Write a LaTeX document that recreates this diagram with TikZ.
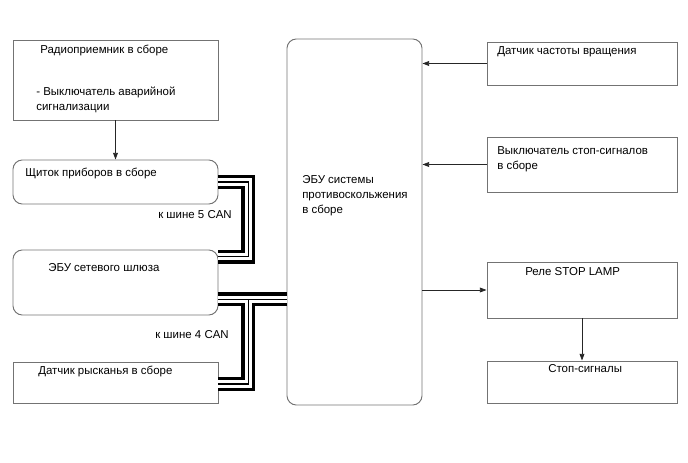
\documentclass[tikz,border=0pt]{standalone}
\usepackage{fontspec}
\setmainfont{Liberation Sans}
\usetikzlibrary{positioning, fit, calc, arrows.meta}

\begin{document}
\begin{tikzpicture}[x=0.75pt, y=-0.75pt,
        box/.style={draw=black!55, line width=0.7pt, inner sep=0pt},
        roundbox/.style={box, rounded corners=7pt},
        txt/.style={inner sep=0pt, anchor=west, align=left, font=\fontsize{8.6}{11.4}\selectfont},
        arr/.style={draw=black!85, line width=0.6pt, -{Triangle[length=5pt, width=3.6pt]}},
        busouter/.style={line width=10.5pt, black},
        businner/.style={line width=5.4pt, white},
        buscore/.style={line width=0.8pt, black}]
        \useasboundingbox (0,0) rectangle (688,463);

        % left column
        \node[box, fit={(13,40) (218,120)}] (radio) {};
        \node[roundbox, fit={(13,160) (218,204)}] (cluster) {};
        \node[roundbox, fit={(13,250) (218,315)}] (gateway) {};
        \node[box, fit={(13,362) (218,403)}] (yaw) {};

        % centre
        \node[roundbox, fit={(287,39) (422,405)}] (ecu) {};

        % right column
        \node[box, fit={(487,42) (677,85)}] (speed) {};
        \node[box, fit={(487,137) (677,192)}] (brake) {};
        \node[box, fit={(487,262) (677,318)}] (relay) {};
        \node[box, fit={(487,361) (677,403)}] (stop) {};

        % texts
        \node[txt] (radiot) at (40,50) {Радиоприемник в сборе};
        \node[txt] (radios) at (36,99.5) {- Выключатель аварийной\\сигнализации};
        \node[txt] (clustert) at (25,173) {Щиток приборов в сборе};
        \node[txt] (gatewayt) at (48,268) {ЭБУ сетевого шлюза};
        \node[txt] (yawt) at (38,371) {Датчик рысканья в сборе};
        \node[txt] (ecut) at (302,195.5) {ЭБУ системы\\противоскольжения\\в сборе};
        \node[txt] (speedt) at (497,52) {Датчик частоты вращения};
        \node[txt] (braket) at (497,159.5) {Выключатель стоп-сигналов\\в сборе};
        \node[txt] (relayt) at (525,272) {Реле STOP LAMP};
        \node[txt] (stopt) at (548,369) {Стоп-сигналы};
        \node[txt, anchor=east] (can5) at (232,215) {к шине 5 CAN};
        \node[txt, anchor=east] (can4) at (229,335) {к шине 4 CAN};

        % CAN buses
        \coordinate (c5) at ($(cluster.east)+(30,0)$);
        \coordinate (gw5) at ($(gateway.north east)+(0,7)$);
        \coordinate (gw4) at ($(gateway.south east)+(0,-16)$);
        \coordinate (c4) at (c5 |- gw4);
        \foreach \layer in {busouter, businner, buscore} {
            \draw[\layer] (cluster.east) -- (c5) |- (gw5);
            \draw[\layer] (gw4) -- (gw4 -| ecu.west);
            \draw[\layer] (c4) |- ($(yaw.east)+(0,1.5)$);
        }

        % signal lines
        \draw[arr] (radio.south) -- (cluster.north);
        \draw[arr] (speed.west) -- (speed.west -| ecu.east);
        \draw[arr] (brake.west) -- (brake.west -| ecu.east);
        \draw[arr] (relay.west -| ecu.east) -- (relay.west);
        \draw[arr] (relay.south) -- (stop.north);
\end{tikzpicture}
\end{document}
